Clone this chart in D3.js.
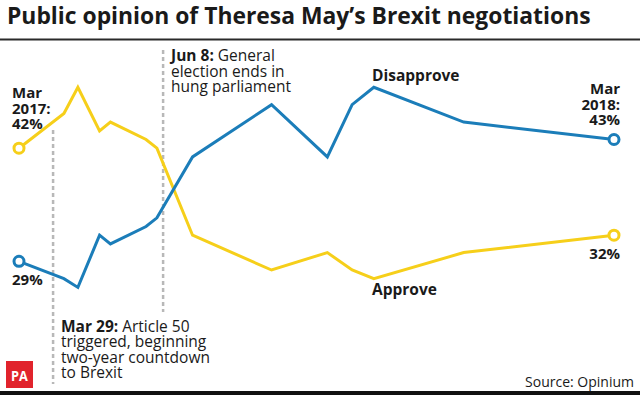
<!DOCTYPE html>
<html>
<head>
<meta charset="utf-8">
<script src="https://cdn.jsdelivr.net/npm/d3@7"></script>
<style>
  body { margin: 0; background: #fff; }
  svg { display: block; }
  text { font-family: "Open Sans", sans-serif; fill: #1a1a1a; }
</style>
</head>
<body>
<div id="chart"></div>
<script>
var pollDates = ["2017-03-07", "2017-04-05", "2017-04-14", "2017-04-28", "2017-05-05",
                 "2017-05-28", "2017-06-04", "2017-06-27", "2017-08-17", "2017-09-22",
                 "2017-10-08", "2017-10-22", "2017-12-19", "2018-03-26"];
var approve    = [42, 46, 49, 44, 45, 43, 42, 32, 28, 30, 28, 27, 30, 32];
var disapprove = [29, 27, 26, 32, 31, 33, 34, 41, 47, 41, 47, 49, 45, 43];

var eventDates = ["2017-03-29", "2017-06-08"];
var eventBold  = ["Mar 29:", "Jun 8:"];
var eventText  = [
    ["Article 50", "triggered, beginning", "two-year countdown", "to Brexit"],
    ["General", "election ends in", "hung parliament"]
];

var width = 640, height = 395;
var blue = "#1b7db9", yellow = "#f6cf1a";

var parse = d3.timeParse("%Y-%m-%d");
var dates = pollDates.map(parse);

var x = d3.scaleTime()
    .domain([dates[0], dates[dates.length - 1]])
    .range([19, 614]);

var y = d3.scaleLinear()
    .domain([25, 50])
    .range([296.1, 78.6]);

var svg = d3.select("#chart")
    .append("svg")
    .attr("width", width)
    .attr("height", height);

// title, sized to the width of the original
var title = svg.append("text")
    .attr("x", 7)
    .attr("y", 24)
    .attr("font-family", "Roboto")
    .attr("font-weight", "bold")
    .attr("font-size", 24)
    .text("Public opinion of Theresa May\u2019s Brexit negotiations");
var tw = title.node().getComputedTextLength();
title.attr("font-size", 24 * Math.min(1, 584 / tw));

svg.append("line")
    .attr("x1", 0).attr("x2", width)
    .attr("y1", 39.5).attr("y2", 39.5)
    .attr("stroke", "#2a2a2a")
    .attr("stroke-width", 2);

// event markers
var eventTop = [130, 50], eventBottom = [384, 312];
svg.selectAll(".event")
    .data(eventDates)
    .enter()
    .append("line")
    .attr("class", "event")
    .attr("x1", function(d) { return x(parse(d)); })
    .attr("x2", function(d) { return x(parse(d)); })
    .attr("y1", function(d, i) { return eventTop[i]; })
    .attr("y2", function(d, i) { return eventBottom[i]; })
    .attr("stroke", "#b8b8b8")
    .attr("stroke-width", 2.5)
    .attr("stroke-dasharray", "4,3");

// lines
var line = d3.line()
    .x(function(d, i) { return x(dates[i]); })
    .y(function(d) { return y(d); });

var series = [
    { values: approve, color: yellow },
    { values: disapprove, color: blue }
];

svg.selectAll(".series")
    .data(series)
    .enter()
    .append("path")
    .attr("class", "series")
    .attr("d", function(d) { return line(d.values); })
    .attr("fill", "none")
    .attr("stroke", function(d) { return d.color; })
    .attr("stroke-width", 3);

// end circles
series.forEach(function(s) {
    [0, s.values.length - 1].forEach(function(i) {
        svg.append("circle")
            .attr("cx", x(dates[i]))
            .attr("cy", y(s.values[i]))
            .attr("r", 5)
            .attr("fill", "#fff")
            .attr("stroke", s.color)
            .attr("stroke-width", 3);
    });
});

// labels, one text per line
function multiline(lines, tx, ty, anchor, size, weight, lh) {
    lines.forEach(function(l, i) {
        svg.append("text")
            .attr("x", tx)
            .attr("y", ty + i * lh)
            .attr("text-anchor", anchor)
            .attr("font-size", size)
            .attr("font-weight", weight)
            .text(l);
    });
}

var last = dates.length - 1;
multiline(["Mar", "2017:", approve[0] + "%"], 12, 98, "start", 15, "bold", 15.7);
multiline([disapprove[0] + "%"], 12, 285, "start", 15, "bold", 15.7);
multiline(["Mar", "2018:", disapprove[last] + "%"], 620, 94, "end", 15, "bold", 15.6);
multiline([approve[last] + "%"], 620, 259, "end", 15, "bold", 15.6);

multiline(["Disapprove"], 372, 81, "start", 15.5, "bold", 0);
multiline(["Approve"], 372, 295, "start", 15.5, "bold", 0);

// event annotations
var eventTextX = [61, 171], eventTextY = [331.5, 61];
eventDates.forEach(function(d, i) {
    var b = svg.append("text")
        .attr("x", eventTextX[i])
        .attr("y", eventTextY[i])
        .attr("font-size", 15.5)
        .attr("font-weight", "bold")
        .text(eventBold[i]);
    var bw = b.node().getComputedTextLength();
    eventText[i].forEach(function(l, j) {
        svg.append("text")
            .attr("x", eventTextX[i] + (j === 0 ? bw + 4 : 0))
            .attr("y", eventTextY[i] + j * 15.5)
            .attr("font-size", 15.5)
            .text(l);
    });
});

// footer
svg.append("rect")
    .attr("x", 6).attr("y", 361)
    .attr("width", 27).attr("height", 27)
    .attr("fill", "#e1232c");

var pa = svg.append("text")
    .attr("font-family", "Roboto")
    .attr("font-weight", "bold")
    .attr("font-size", 15)
    .attr("text-anchor", "middle")
    .style("fill", "#fff")
    .text("PA");
pa.attr("transform", "translate(19.5,380.5) scale(0.85,1)");

svg.append("text")
    .attr("x", 634).attr("y", 387)
    .attr("text-anchor", "end")
    .attr("font-size", 14)
    .text("Source: Opinium");

svg.append("rect")
    .attr("x", 0).attr("y", 391)
    .attr("width", width).attr("height", 4)
    .attr("fill", "#111");
</script>
</body>
</html>
